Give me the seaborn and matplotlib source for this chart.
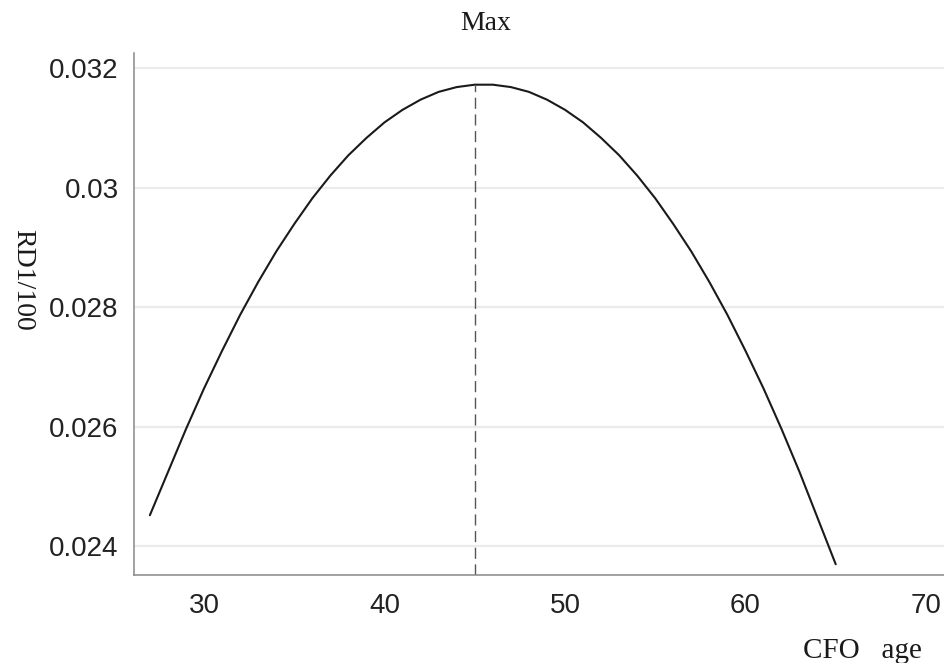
import pandas as pd
import seaborn as sns
import matplotlib
matplotlib.use("Agg")
import matplotlib.pyplot as plt

# values
cfo_age = [27, 28, 29, 30, 31, 32, 33, 34, 35, 36, 37, 38, 39, 40, 41, 42, 43, 44, 45,
           46, 47, 48, 49, 50, 51, 52, 53, 54, 55, 56, 57, 58, 59, 60, 61, 62, 63, 64, 65]
rd = [0.02452, 0.02524, 0.02596, 0.02664, 0.02727, 0.02787, 0.02842, 0.02893, 0.02939,
      0.02982, 0.03020, 0.03054, 0.03083, 0.03109, 0.03130, 0.03147, 0.03160, 0.03168,
      0.03172, 0.03172, 0.03168, 0.03160, 0.03147, 0.03130, 0.03109, 0.03083, 0.03054,
      0.03020, 0.02982, 0.02939, 0.02893, 0.02842, 0.02787, 0.02727, 0.02664, 0.02596,
      0.02524, 0.02447, 0.02370]
max_age = 45
max_rd = 0.03172
x_ticks = [30, 40, 50, 60, 70]
y_ticks = [0.024, 0.026, 0.028, 0.030, 0.032]
y_tick_labels = ["0.024", "0.026", "0.028", "0.03", "0.032"]

df = pd.DataFrame({"CFO age": cfo_age, "RD1/100": rd})

sns.set_style("white")
plt.rcParams["font.family"] = ["Liberation Sans", "DejaVu Sans"]

fig = plt.figure(figsize=(9.44, 6.63), dpi=100)
ax = fig.add_axes([134 / 944, 1 - 575 / 663, 810 / 944, 522 / 663])

# horizontal grid
for yv in y_ticks:
    ax.axhline(yv, color="#ebebeb", lw=1.6, zorder=0)

sns.lineplot(data=df, x="CFO age", y="RD1/100", ax=ax, color="#1a1a1a", lw=1.5)
ax.lines[-1].set_solid_joinstyle("round")

ylo, yhi = 0.02352, 0.03225
ax.vlines(max_age, ylo, max_rd, colors="#555555", linestyles=(0, (8, 4)), lw=1.0)

ax.set_xlim(26.12, 71.0)
ax.set_ylim(ylo, yhi)
ax.set_xticks(x_ticks)
ax.set_yticks(y_ticks)
ax.set_yticklabels(y_tick_labels)
ax.tick_params(axis="both", direction="out", length=5, width=1.0, color="#888888",
               labelsize=20, labelcolor="#222222")
ax.tick_params(axis="x", pad=8)
ax.tick_params(axis="y", pad=6)

for s in ["top", "right"]:
    ax.spines[s].set_visible(False)
for s in ["left", "bottom"]:
    ax.spines[s].set_color("#888888")
    ax.spines[s].set_linewidth(1.1)

ax.set_xlabel("")
ax.set_ylabel("")

serif = ["Liberation Serif", "DejaVu Serif"]
fig.text(486 / 944, 1 - 23 / 663, "Max", ha="center", va="center", fontsize=20,
         family=serif, color="#1a1a1a")
fig.text(23 / 944, 1 - 280 / 663, "RD1/100", ha="center", va="center", rotation=270,
         fontsize=20, family=serif, color="#1a1a1a")
fig.text(922 / 944, 1 - 651 / 663, "CFO   age", ha="right", va="center", fontsize=21,
         family=serif, color="#1a1a1a")

fig.savefig("out.png", dpi=100)
